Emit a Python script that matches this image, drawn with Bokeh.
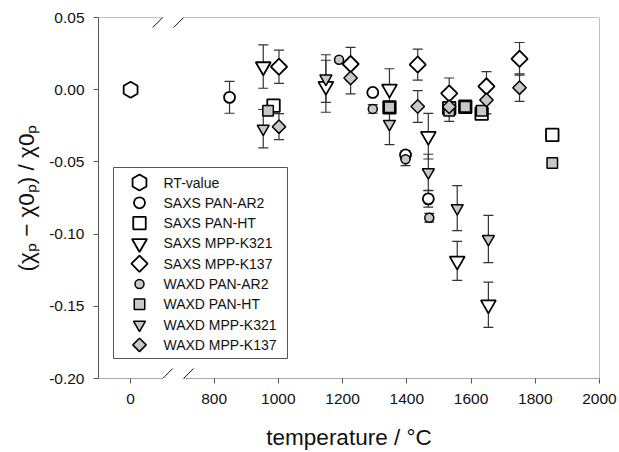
from math import pi

from bokeh.core.properties import value
from bokeh.embed import file_html
from bokeh.models import (Arrow, ColumnDataSource, FixedTicker,
                          PrintfTickFormatter, TeeHead, Title, Whisker)
from bokeh.plotting import figure
from bokeh.resources import INLINE

# ---------------------------------------------------------------------------
# Relative change of the susceptibility (chi_p - chi0_p) / chi0_p versus
# heat-treatment temperature (°C); err = half-width of the error bar.
# ---------------------------------------------------------------------------
rt_temp = [0]
rt_val = [0.0]
rt_err = [0.0]

saxs_pan_ar2_temp = [848, 1294, 1396, 1467]
saxs_pan_ar2_val = [-0.0053, -0.0019, -0.0452, -0.0756]
saxs_pan_ar2_err = [0.011, 0.0, 0.003, 0.0057]

saxs_pan_ht_temp = [985, 1346, 1532, 1582, 1633, 1853]
saxs_pan_ht_val = [-0.0110, -0.0122, -0.0127, -0.0118, -0.0166, -0.0313]
saxs_pan_ht_err = [0.0, 0.0, 0.0, 0.0, 0.003, 0.0]

saxs_mpp_k321_temp = [953, 1148, 1346, 1467, 1557, 1654]
saxs_mpp_k321_val = [0.0160, 0.0024, 0.0005, -0.0322, -0.1186, -0.1489]
saxs_mpp_k321_err = [0.0150, 0.0180, 0.0140, 0.0158, 0.0135, 0.0157]

saxs_mpp_k137_temp = [1002, 1225, 1434, 1532, 1648, 1751]
saxs_mpp_k137_val = [0.0159, 0.0178, 0.0174, -0.0026, 0.0023, 0.0214]
saxs_mpp_k137_err = [0.0115, 0.0115, 0.0107, 0.0107, 0.0102, 0.0113]

waxd_pan_ar2_temp = [1189, 1294, 1396, 1470]
waxd_pan_ar2_val = [0.0207, -0.0133, -0.0482, -0.0887]
waxd_pan_ar2_err = [0.0, 0.003, 0.0044, 0.003]

waxd_pan_ht_temp = [968, 1346, 1532, 1582, 1633, 1853]
waxd_pan_ht_val = [-0.0145, -0.0122, -0.0145, -0.0118, -0.0145, -0.0507]
waxd_pan_ht_err = [0.0, 0.0, 0.0, 0.0, 0.0, 0.0]

waxd_mpp_k321_temp = [953, 1148, 1346, 1467, 1557, 1654]
waxd_mpp_k321_val = [-0.0270, 0.0077, -0.0237, -0.0572, -0.0820, -0.1034]
waxd_mpp_k321_err = [0.0133, 0.0165, 0.0143, 0.0125, 0.0156, 0.0163]

waxd_mpp_k137_temp = [1002, 1225, 1434, 1532, 1648, 1751]
waxd_mpp_k137_val = [-0.0256, 0.0081, -0.0116, -0.0118, -0.0071, 0.0014]
waxd_mpp_k137_err = [0.0090, 0.0110, 0.0110, 0.0102, 0.0097, 0.0095]

x_tick_values = [0, 800, 1000, 1200, 1400, 1600, 1800, 2000]
y_tick_values = [-0.20, -0.15, -0.10, -0.05, 0.00, 0.05]

# ---------------------------------------------------------------------------
# Broken temperature axis: values below BREAK_T are moved right by AXIS_SHIFT
# so the room-temperature point sits just left of the "//" break.
# ---------------------------------------------------------------------------
BREAK_T = 800
AXIS_SHIFT = 540
X_START, X_END = 440, 2000
Y_START, Y_END = -0.20, 0.05
BREAK_MARKS = [640, 705]          # axis positions of the two slashes

W, H = 619, 452
LEFT, RIGHT, TOP, BOTTOM = 98, 20, 17, 74
FRAME_W, FRAME_H = W - LEFT - RIGHT, H - TOP - BOTTOM
px_x = (X_END - X_START) / FRAME_W     # axis units per pixel
px_y = (Y_END - Y_START) / FRAME_H


def to_axis(t):
    return t + AXIS_SHIFT if t < BREAK_T else t


def sx_to_x(sx):
    """Canvas pixel column -> x-axis units."""
    return X_START + (sx - LEFT) * px_x


def sy_to_y(sy):
    """Canvas pixel row -> y-axis units."""
    return Y_END - (sy - TOP) * px_y


FONT = "Liberation Sans"
AXIS_GREY = "#555555"
FRAME_GREY = "#808080"
BAR_GREY = "#333333"
FILL_GREY = "#c8c8c8"
TEXT = "#111111"
TITLE_SIZE = "22.5px"

p = figure(width=W, height=H,
           x_range=(X_START, X_END), y_range=(Y_START, Y_END),
           output_backend="svg", toolbar_location=None,
           min_border_left=LEFT, min_border_right=RIGHT,
           min_border_top=TOP, min_border_bottom=BOTTOM,
           background_fill_color="white", border_fill_color="white")
p.outline_line_color = None
p.grid.visible = False

# x axis
p.xaxis.ticker = FixedTicker(ticks=[to_axis(t) for t in x_tick_values])
p.xaxis.major_label_overrides = {to_axis(t): str(t) for t in x_tick_values}
p.xaxis.minor_tick_line_color = None
p.xaxis.major_tick_out = 5
p.xaxis.major_tick_in = 0
p.xaxis.major_tick_line_color = AXIS_GREY
p.xaxis.axis_line_color = None
p.xaxis.major_label_standoff = 10
p.xaxis.major_label_text_font = FONT
p.xaxis.major_label_text_font_size = "15.5px"
p.xaxis.major_label_text_color = TEXT
p.xaxis.axis_label = "temperature / °C"
p.xaxis.axis_label_text_font = FONT
p.xaxis.axis_label_text_font_size = TITLE_SIZE
p.xaxis.axis_label_text_font_style = "normal"
p.xaxis.axis_label_text_color = TEXT
p.xaxis.axis_label_standoff = 18

# y axis
p.yaxis.ticker = FixedTicker(ticks=y_tick_values)
p.yaxis.formatter = PrintfTickFormatter(format="%.2f")
p.yaxis.minor_tick_line_color = None
p.yaxis.major_tick_out = 5
p.yaxis.major_tick_in = 0
p.yaxis.major_tick_line_color = AXIS_GREY
p.yaxis.axis_line_color = AXIS_GREY
p.yaxis.major_label_standoff = 9
p.yaxis.major_label_text_font = FONT
p.yaxis.major_label_text_font_size = "15.5px"
p.yaxis.major_label_text_color = TEXT

# y-axis title with subscripts, sitting a little below the frame centre
p.add_layout(Title(text="(χₚ − χ0ₚ) / χ0ₚ", align="center", offset=-32,
                   standoff=16, text_font=FONT, text_font_size=TITLE_SIZE,
                   text_font_style="normal", text_color=TEXT), "left")


# frame lines (bottom and top interrupted at the axis break) and the "//" marks
def line(x0, y0, x1, y1, color, width=1.0):
    p.add_layout(Arrow(end=None, x_start=x0, y_start=y0, x_end=x1, y_end=y1,
                       line_color=color, line_width=width))


for yy, col in ((Y_START, AXIS_GREY), (Y_END, FRAME_GREY)):
    line(X_START, yy, BREAK_MARKS[0], yy, col)
    line(BREAK_MARKS[1], yy, X_END, yy, col)
    for bx in BREAK_MARKS:
        line(bx - 10 * px_x, yy - 10 * px_y, bx + 10 * px_x, yy + 10 * px_y, TEXT)
line(X_END, Y_START, X_END, Y_END, FRAME_GREY)

# series: (label, temps, values, errors, marker, size, fill, line width, angle)
series = [
    ("RT-value", rt_temp, rt_val, rt_err, "hex", 16, "white", 1.8, pi / 2),
    ("SAXS PAN-AR2", saxs_pan_ar2_temp, saxs_pan_ar2_val, saxs_pan_ar2_err, "circle", 11, "white", 1.8, 0),
    ("SAXS PAN-HT", saxs_pan_ht_temp, saxs_pan_ht_val, saxs_pan_ht_err, "square", 12.5, "white", 1.8, 0),
    ("SAXS MPP-K321", saxs_mpp_k321_temp, saxs_mpp_k321_val, saxs_mpp_k321_err, "inverted_triangle", 15, "white", 1.8, 0),
    ("SAXS MPP-K137", saxs_mpp_k137_temp, saxs_mpp_k137_val, saxs_mpp_k137_err, "square", 11.5, "white", 1.8, pi / 4),
    ("WAXD PAN-AR2", waxd_pan_ar2_temp, waxd_pan_ar2_val, waxd_pan_ar2_err, "circle", 9, FILL_GREY, 1.5, 0),
    ("WAXD PAN-HT", waxd_pan_ht_temp, waxd_pan_ht_val, waxd_pan_ht_err, "square", 10.5, FILL_GREY, 1.5, 0),
    ("WAXD MPP-K321", waxd_mpp_k321_temp, waxd_mpp_k321_val, waxd_mpp_k321_err, "inverted_triangle", 12, FILL_GREY, 1.5, 0),
    ("WAXD MPP-K137", waxd_mpp_k137_temp, waxd_mpp_k137_val, waxd_mpp_k137_err, "square", 9.5, FILL_GREY, 1.5, pi / 4),
]

for label, temps, vals, errs, marker, size, fill, lw, ang in series:
    src = ColumnDataSource(dict(x=[to_axis(t) for t in temps], y=vals))
    bars = ColumnDataSource(dict(
        x=[to_axis(t) for t, e in zip(temps, errs) if e > 0],
        upper=[v + e for v, e in zip(vals, errs) if e > 0],
        lower=[v - e for v, e in zip(vals, errs) if e > 0]))
    if len(bars.data["x"]):
        p.add_layout(Whisker(source=bars, base="x", upper="upper", lower="lower",
                             dimension="height", level="underlay",
                             line_color=BAR_GREY, line_width=1.2,
                             upper_head=TeeHead(size=10, line_color=BAR_GREY, line_width=1.2),
                             lower_head=TeeHead(size=10, line_color=BAR_GREY, line_width=1.2)))
    p.scatter("x", "y", source=src, marker=marker, size=size, angle=ang,
              fill_color=fill, line_color="black", line_width=lw)

# legend box in the lower-left corner of the frame
LEG_LEFT, LEG_RIGHT, LEG_TOP, LEG_BOTTOM = 113, 287, 167, 358
LEG_ROW0, LEG_STEP = 182, 20.3
LEG_MARK_X, LEG_TEXT_X = 139, 163

p.quad(left=[sx_to_x(LEG_LEFT)], right=[sx_to_x(LEG_RIGHT)],
       top=[sy_to_y(LEG_TOP)], bottom=[sy_to_y(LEG_BOTTOM)],
       fill_color="white", line_color=AXIS_GREY, line_width=1)

for i, (label, _t, _v, _e, marker, size, fill, lw, ang) in enumerate(series):
    row_y = sy_to_y(LEG_ROW0 + i * LEG_STEP)
    p.scatter([sx_to_x(LEG_MARK_X)], [row_y], marker=marker, size=size, angle=ang,
              fill_color=fill, line_color="black", line_width=lw)
    p.text([sx_to_x(LEG_TEXT_X)], [row_y], text=[label],
           text_font=value(FONT), text_font_size="14px", text_color=TEXT,
           text_align="left", text_baseline="middle")

open("out.html", "w").write(file_html(p, INLINE))
